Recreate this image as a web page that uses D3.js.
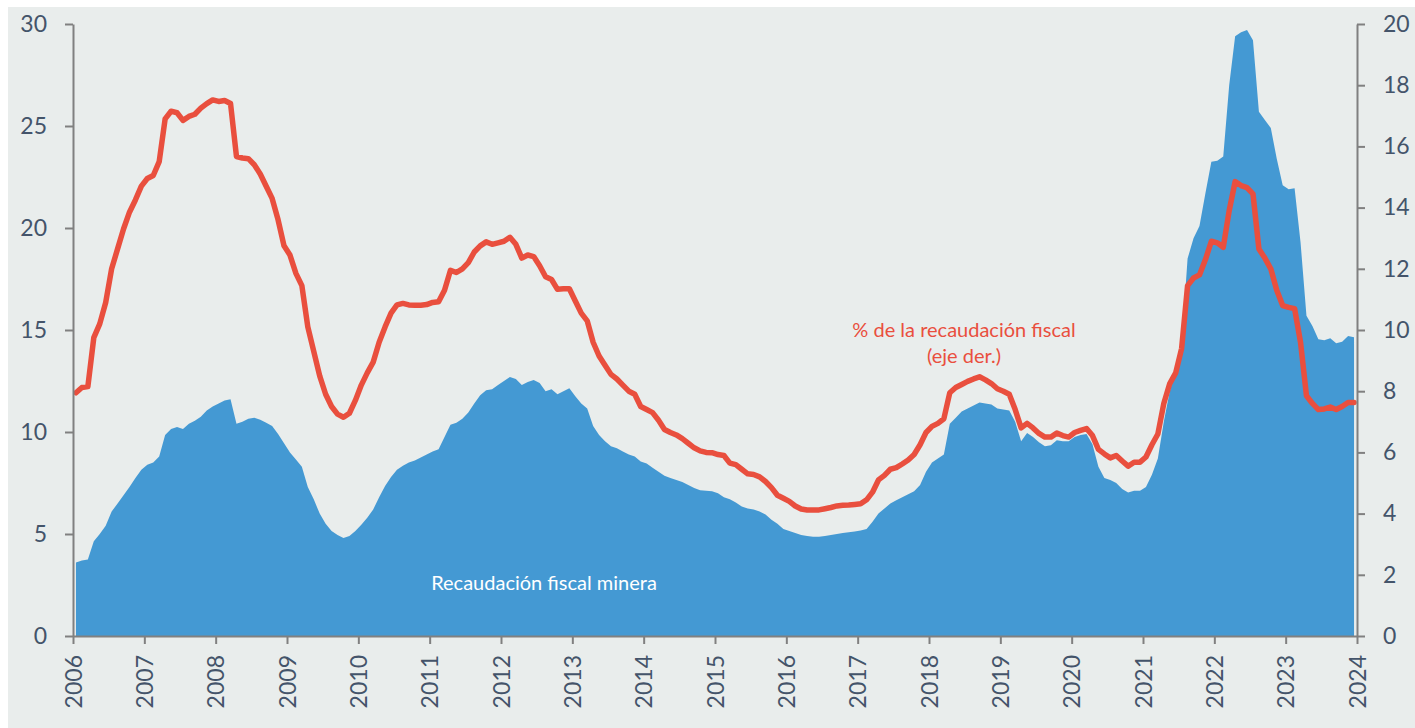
<!DOCTYPE html>
<html>
<head>
<meta charset="utf-8">
<script src="https://cdn.jsdelivr.net/npm/d3@7"></script>
<style>
  html, body { margin: 0; padding: 0; background: #ffffff; }
  svg { display: block; }
  text { font-family: Lato, "Open Sans", sans-serif; }
</style>
</head>
<body>
<svg id="chart" width="1415" height="728"></svg>
<script>
// Monthly data, Jan 2006 – Dec 2023
const startYear = 2006;
const yearTicks = [2006,2007,2008,2009,2010,2011,2012,2013,2014,2015,2016,2017,2018,2019,2020,2021,2022,2023,2024];
const leftTicks = [0,5,10,15,20,25,30];
const rightTicks = [0,2,4,6,8,10,12,14,16,18,20];

// Recaudación fiscal minera (left axis)
const miningRevenue = [
  3.6,3.7,3.75,4.65,5.0,5.4,6.1,6.5,6.9,7.3,7.75,8.15,          // 2006
  8.4,8.5,8.8,9.85,10.15,10.25,10.15,10.4,10.55,10.75,11.05,11.25, // 2007
  11.4,11.55,11.6,10.4,10.5,10.65,10.7,10.6,10.45,10.3,9.9,9.45,   // 2008
  9.0,8.65,8.3,7.3,6.7,6.0,5.5,5.15,4.95,4.8,4.9,5.15,             // 2009
  5.45,5.8,6.2,6.8,7.35,7.8,8.15,8.35,8.5,8.6,8.75,8.9,            // 2010
  9.05,9.15,9.75,10.35,10.45,10.65,10.95,11.4,11.8,12.05,12.1,12.3, // 2011
  12.5,12.7,12.6,12.3,12.45,12.55,12.4,12.0,12.1,11.85,12.0,12.15, // 2012
  11.75,11.4,11.15,10.3,9.85,9.55,9.3,9.2,9.05,8.9,8.8,8.55,       // 2013
  8.45,8.25,8.05,7.85,7.75,7.65,7.55,7.4,7.25,7.15,7.12,7.1,       // 2014
  7.0,6.8,6.7,6.55,6.35,6.25,6.2,6.1,5.95,5.7,5.5,5.25,            // 2015
  5.15,5.05,4.95,4.9,4.87,4.87,4.9,4.95,5.0,5.05,5.08,5.12,        // 2016
  5.17,5.25,5.6,6.0,6.25,6.5,6.65,6.8,6.95,7.1,7.4,8.05,           // 2017
  8.5,8.7,8.9,10.4,10.7,11.0,11.15,11.3,11.45,11.4,11.35,11.15,    // 2018
  11.1,11.05,10.5,9.55,9.95,9.75,9.5,9.3,9.35,9.6,9.55,9.55,       // 2019
  9.75,9.85,9.9,9.4,8.3,7.75,7.65,7.5,7.2,7.03,7.12,7.12,          // 2020
  7.3,7.9,8.7,10.5,12.0,13.0,14.3,18.5,19.5,20.1,21.7,23.25,       // 2021
  23.3,23.5,27.0,29.4,29.6,29.7,29.2,25.7,25.3,24.9,23.4,22.1,     // 2022
  21.9,21.95,19.3,15.7,15.2,14.55,14.5,14.6,14.35,14.43,14.7,14.64 // 2023
];

// % de la recaudación fiscal (right axis)
const shareOfRevenue = [
  7.95,8.12,8.15,9.75,10.2,10.9,12.0,12.65,13.3,13.85,14.25,14.7,   // 2006
  14.95,15.05,15.5,16.9,17.15,17.1,16.85,16.98,17.05,17.25,17.4,17.52, // 2007
  17.47,17.5,17.4,15.67,15.62,15.6,15.4,15.1,14.7,14.3,13.6,12.75,  // 2008
  12.45,11.85,11.45,10.1,9.3,8.5,7.9,7.5,7.25,7.15,7.28,7.7,        // 2009
  8.2,8.6,8.95,9.6,10.1,10.55,10.82,10.87,10.82,10.81,10.81,10.83,  // 2010
  10.9,10.92,11.3,11.95,11.88,12.0,12.2,12.55,12.75,12.88,12.8,12.85, // 2011
  12.9,13.03,12.8,12.35,12.45,12.4,12.1,11.74,11.65,11.33,11.35,11.35, // 2012
  10.95,10.55,10.3,9.6,9.15,8.85,8.55,8.4,8.2,8.0,7.9,7.5,          // 2013
  7.4,7.3,7.05,6.75,6.65,6.57,6.45,6.3,6.15,6.05,6.0,5.99,          // 2014
  5.93,5.9,5.65,5.6,5.45,5.3,5.28,5.2,5.05,4.85,4.6,4.5,            // 2015
  4.4,4.25,4.15,4.12,4.12,4.12,4.16,4.2,4.25,4.27,4.28,4.3,         // 2016
  4.32,4.45,4.7,5.1,5.25,5.45,5.5,5.62,5.75,5.93,6.25,6.65,         // 2017
  6.85,6.95,7.1,7.95,8.12,8.22,8.32,8.4,8.47,8.37,8.25,8.08,        // 2018
  8.0,7.9,7.4,6.8,6.95,6.8,6.62,6.5,6.5,6.63,6.55,6.5,              // 2019
  6.65,6.72,6.78,6.55,6.1,5.95,5.82,5.9,5.72,5.55,5.68,5.68,        // 2020
  5.85,6.25,6.6,7.6,8.25,8.6,9.4,11.45,11.7,11.8,12.3,12.9,         // 2021
  12.85,12.7,13.9,14.85,14.72,14.65,14.45,12.65,12.35,12.0,11.3,10.8, // 2022
  10.74,10.7,9.6,7.85,7.6,7.4,7.42,7.48,7.4,7.5,7.63,7.63          // 2023
];

const labelShare = ["% de la recaudación fiscal", "(eje der.)"];
const labelMining = "Recaudación fiscal minera";

const W = 1415, H = 728;
const svg = d3.select("#chart");

// panel background
svg.append("rect").attr("x", 8).attr("y", 7).attr("width", W - 8).attr("height", H - 7).attr("fill", "#e9edec");

const x = d3.scaleLinear().domain([2006, 2024]).range([73, 1357]);
const yL = d3.scaleLinear().domain([0, 30]).range([636, 24]);
const yR = d3.scaleLinear().domain([0, 20]).range([636, 24]);
const tOf = i => startYear + (i + 0.5) / 12;

// area
const area = d3.area()
  .x((d, i) => x(tOf(i)))
  .y0(yL(0))
  .y1(d => yL(d));
svg.append("path").datum(miningRevenue)
  .attr("d", area)
  .attr("fill", "#4499d3");

// line
const line = d3.line()
  .x((d, i) => x(tOf(i)))
  .y(d => yR(d))
  .curve(d3.curveLinear);
svg.append("path").datum(shareOfRevenue)
  .attr("d", line)
  .attr("fill", "none")
  .attr("stroke", "#e94f3e")
  .attr("stroke-width", 5.5)
  .attr("stroke-linejoin", "round")
  .attr("stroke-linecap", "round");

const axisColor = "#808080";
const textColor = "#44546a";

function styleAxis(g) {
  g.selectAll(".domain").attr("stroke", axisColor).attr("stroke-width", 2);
  g.selectAll(".tick line").attr("stroke", axisColor).attr("stroke-width", 2);
  g.selectAll("text").attr("fill", textColor).style("font-size", "23px").style("font-family", "Lato, sans-serif");
}

// left axis
const gL = svg.append("g").attr("transform", "translate(73,0)")
  .call(d3.axisLeft(yL).tickValues(leftTicks).tickSize(8).tickPadding(18).tickSizeOuter(0));
styleAxis(gL);

// right axis
const gR = svg.append("g").attr("transform", "translate(1357,0)")
  .call(d3.axisRight(yR).tickValues(rightTicks).tickSize(8).tickPadding(18).tickSizeOuter(0));
styleAxis(gR);

// bottom axis
const gB = svg.append("g").attr("transform", "translate(0,636)")
  .call(d3.axisBottom(x).tickValues(yearTicks).tickFormat(d3.format("d")).tickSize(8).tickSizeOuter(0));
styleAxis(gB);
gB.selectAll(".tick text")
  .attr("transform", "rotate(-90)")
  .attr("text-anchor", "end")
  .attr("x", -19)
  .attr("y", 0)
  .attr("dy", "0.36em");

// annotations
const ann = svg.append("text")
  .attr("x", 964).attr("y", 337)
  .attr("text-anchor", "middle")
  .attr("fill", "#e94f3e")
  .style("font-size", "20px");
ann.append("tspan").attr("x", 964).attr("y", 337).text(labelShare[0]);
ann.append("tspan").attr("x", 964).attr("y", 363).text(labelShare[1]);

svg.append("text")
  .attr("x", 544).attr("y", 590)
  .attr("text-anchor", "middle")
  .attr("fill", "#ffffff")
  .style("font-size", "20px")
  .text(labelMining);
</script>
</body>
</html>
